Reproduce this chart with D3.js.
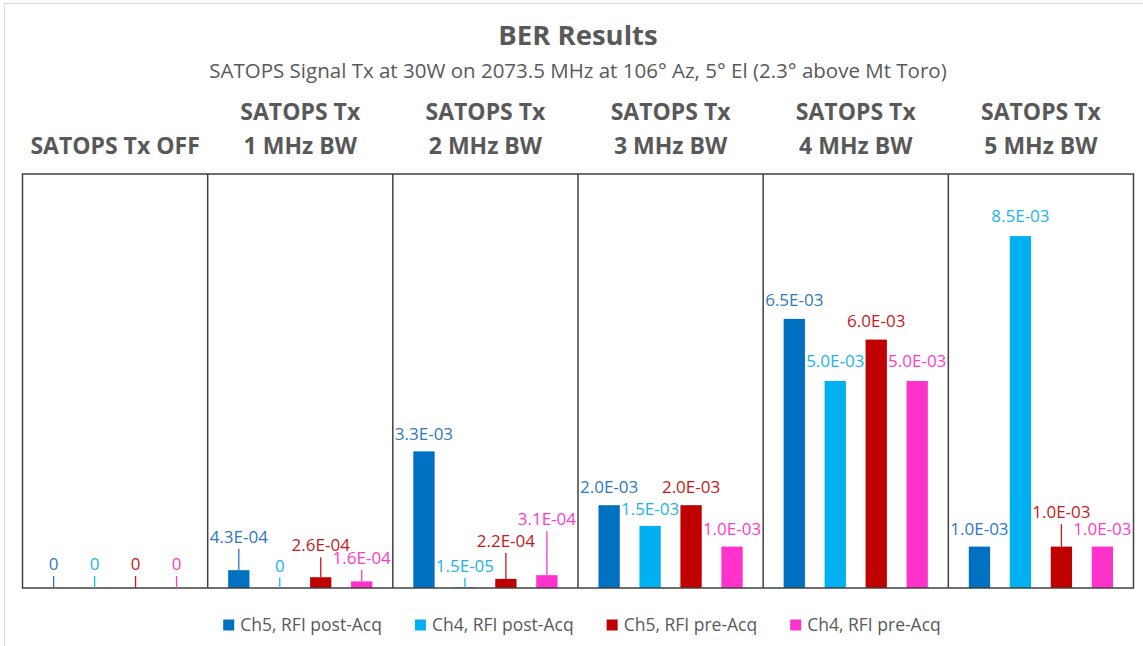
<!DOCTYPE html>
<html><head><meta charset="utf-8">
<script src="https://cdn.jsdelivr.net/npm/d3@7"></script>
<style>body{margin:0;background:#fff;overflow:hidden;} text{font-family:"Open Sans",sans-serif;}</style>
</head><body><svg id="c" width="1143" height="646"></svg>
<script>
// ---- data ----
const chartTitle = "BER Results";
const chartSubtitle = "SATOPS Signal Tx at 30W on 2073.5 MHz at 106° Az, 5° El (2.3° above Mt Toro)";
const categories = [
  ["SATOPS Tx OFF"],
  ["SATOPS Tx", "1 MHz BW"],
  ["SATOPS Tx", "2 MHz BW"],
  ["SATOPS Tx", "3 MHz BW"],
  ["SATOPS Tx", "4 MHz BW"],
  ["SATOPS Tx", "5 MHz BW"]
];
const seriesNames = ["Ch5, RFI post-Acq", "Ch4, RFI post-Acq", "Ch5, RFI pre-Acq", "Ch4, RFI pre-Acq"];
const ch5Post = [0, 4.3e-4, 3.3e-3, 2.0e-3, 6.5e-3, 1.0e-3];
const ch4Post = [0, 0, 1.5e-5, 1.5e-3, 5.0e-3, 8.5e-3];
const ch5Pre  = [0, 2.6e-4, 2.2e-4, 2.0e-3, 6.0e-3, 1.0e-3];
const ch4Pre  = [0, 1.6e-4, 3.1e-4, 1.0e-3, 5.0e-3, 1.0e-3];
const yDomain = [0, 0.01];

// ---- style / layout ----
const seriesValues = [ch5Post, ch4Post, ch5Pre, ch4Pre];
const barColors = ["#0070C0", "#00B0F0", "#C00000", "#FF33CC"];
const labelColors = ["#2E78C2", "#1AB4EE", "#C41A1A", "#FF3ACD"];
// distance (px) of each data label's centre above its bar top; larger ones get a leader line
const labelLift = [
  [24, 24, 24, 24],
  [33.5, 22.5, 32, 23.5],
  [17, 21.5, 38, 56],
  [18.5, 17, 18.5, 17.5],
  [18.5, 20, 19, 20],
  [17.5, 20, 34.5, 17.5]
];
const gray = "#595959";
const W = 1143, H = 646;
const plot = {left: 22.5, right: 1133.5, top: 174, bottom: 588};
const fs = {title: 27.5, sub: 20.5, head: 23, label: 17, legend: 17.5};

const svg = d3.select("#c");
svg.append("rect").attr("width", W).attr("height", H).attr("fill", "#fff");
svg.append("rect").attr("x", 4.5).attr("y", 3.5).attr("width", W + 20).attr("height", H + 20)
  .attr("fill", "none").attr("stroke", "#d9d9d9").attr("stroke-width", 1);

const x0 = d3.scaleBand().domain(d3.range(categories.length)).range([plot.left, plot.right]);
const x1 = d3.scaleBand().domain(d3.range(seriesNames.length)).range([0, x0.bandwidth()])
  .paddingInner(0.48).paddingOuter(0.5);
const y = d3.scaleLinear().domain(yDomain).range([plot.bottom, plot.top]);

function fmt(v) {
  if (v === 0) return "0";
  const s = v.toExponential(1).toUpperCase();
  return s.replace(/E([+-])(\d)$/, "E$10$2");
}

// title
svg.append("text").attr("x", 578).attr("y", 35 + 0.357 * fs.title).attr("text-anchor", "middle")
  .attr("font-size", fs.title).attr("font-weight", 700).attr("fill", gray).text(chartTitle);
svg.append("text").attr("x", 578).attr("y", 71 + 0.357 * fs.sub).attr("text-anchor", "middle")
  .attr("font-size", fs.sub).attr("fill", gray).text(chartSubtitle);

// group headers
categories.forEach((lines, i) => {
  const cx = x0(i) + x0.bandwidth() / 2;
  const ys = lines.length === 1 ? [146] : [112, 146];
  lines.forEach((ln, k) => {
    svg.append("text").attr("x", cx).attr("y", ys[k] + 0.357 * fs.head).attr("text-anchor", "middle")
      .attr("font-size", fs.head).attr("font-weight", 700).attr("fill", gray).text(ln);
  });
});

// bars
const flat = [];
categories.forEach((c, i) => seriesValues.forEach((vals, j) => flat.push({i, j, v: vals[i]})));
const g = svg.append("g");
g.selectAll("rect.bar").data(flat).join("rect").attr("class", "bar")
  .attr("x", d => x0(d.i) + x1(d.j)).attr("width", x1.bandwidth())
  .attr("y", d => y(d.v)).attr("height", d => y(0) - y(d.v))
  .attr("fill", d => barColors[d.j]);

// plot frame and dividers
svg.append("rect").attr("x", plot.left).attr("y", plot.top).attr("width", plot.right - plot.left)
  .attr("height", plot.bottom - plot.top).attr("fill", "none").attr("stroke", "#404040").attr("stroke-width", 1.5);
d3.range(1, categories.length).forEach(i => {
  svg.append("line").attr("x1", x0(i)).attr("x2", x0(i)).attr("y1", plot.top).attr("y2", plot.bottom)
    .attr("stroke", "#404040").attr("stroke-width", 1.5);
});

// labels with leader lines
flat.forEach(d => {
  const cx = x0(d.i) + x1(d.j) + x1.bandwidth() / 2;
  const top = y(d.v);
  const lift = labelLift[d.i][d.j];
  if (lift > 21) {
    svg.append("line").attr("x1", cx).attr("x2", cx).attr("y1", top - (lift - 12)).attr("y2", top)
      .attr("stroke", labelColors[d.j]).attr("stroke-width", 1.3);
  }
  svg.append("text").attr("x", cx).attr("y", top - lift + 0.357 * fs.label).attr("text-anchor", "middle")
    .attr("font-size", fs.label).attr("fill", labelColors[d.j]).text(fmt(d.v));
});

// legend
const lg = svg.append("g");
const items = seriesNames.map((n, j) => {
  const it = lg.append("g");
  it.append("rect").attr("x", 0).attr("y", 619.5).attr("width", 11).attr("height", 11).attr("fill", barColors[j]);
  const t = it.append("text").attr("x", 17).attr("y", 625 + 0.357 * fs.legend).attr("font-size", fs.legend)
    .attr("fill", gray).text(n);
  return {it, w: 17 + t.node().getComputedTextLength()};
});
const gap = 33;
const total = d3.sum(items, d => d.w) + gap * (items.length - 1);
let lx = 582 - total / 2;
items.forEach(d => { d.it.attr("transform", `translate(${lx},0)`); lx += d.w + gap; });
</script></body></html>
